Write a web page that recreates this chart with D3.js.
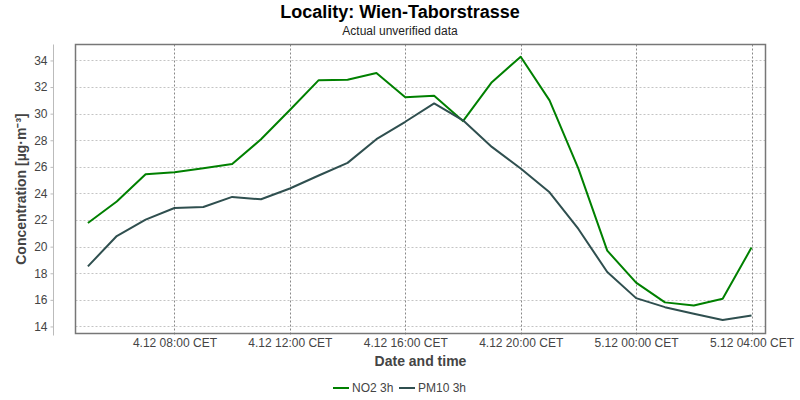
<!DOCTYPE html>
<html><head><meta charset="utf-8">
<script src="https://cdn.jsdelivr.net/npm/d3@7"></script>
<style>body{margin:0;background:#fff;}svg{display:block;font-family:"Liberation Sans",Arial,sans-serif;}</style>
</head><body><svg id="c" width="800" height="400"></svg>
<script>
const hours = ["2023-12-04T05:00","2023-12-04T06:00","2023-12-04T07:00","2023-12-04T08:00","2023-12-04T09:00","2023-12-04T10:00","2023-12-04T11:00","2023-12-04T12:00","2023-12-04T13:00","2023-12-04T14:00","2023-12-04T15:00","2023-12-04T16:00","2023-12-04T17:00","2023-12-04T18:00","2023-12-04T19:00","2023-12-04T20:00","2023-12-04T21:00","2023-12-04T22:00","2023-12-04T23:00","2023-12-05T00:00","2023-12-05T01:00","2023-12-05T02:00","2023-12-05T03:00","2023-12-05T04:00"];
const no2 = [21.78,23.39,25.45,25.6,25.9,26.22,28.07,30.27,32.52,32.55,33.05,31.24,31.34,29.44,32.37,34.28,31.0,25.87,19.7,17.29,15.81,15.58,16.08,19.93];
const pm10 = [18.52,20.8,22.03,22.91,22.98,23.74,23.56,24.37,25.35,26.3,28.08,29.39,30.77,29.5,27.5,25.88,24.09,21.33,18.09,16.13,15.45,14.95,14.48,14.83];
const yTicks = [14,16,18,20,22,24,26,28,30,32,34];
const xTickTimes = ["2023-12-04T08:00","2023-12-04T12:00","2023-12-04T16:00","2023-12-04T20:00","2023-12-05T00:00","2023-12-05T04:00"];
const xTickLabels = ["4.12 08:00 CET","4.12 12:00 CET","4.12 16:00 CET","4.12 20:00 CET","5.12 00:00 CET","5.12 04:00 CET"];
const seriesNames = ["NO2 3h","PM10 3h"];
const seriesColors = ["#008000","#2f4f4f"];
const title = "Locality: Wien-Taborstrasse";
const subtitle = "Actual unverified data";
const yLabel = "Concentration [µg·m⁻³]";
const xLabel = "Date and time";

const parse = d3.timeParse("%Y-%m-%dT%H:%M");
const times = hours.map(parse);
const svg = d3.select("#c");
const L = 75.5, R = 765.5, T = 44.5, B = 333.5;
const hourMs = 3600e3;
const x = d3.scaleTime()
  .domain([new Date(times[0].getTime() - 0.43*hourMs), new Date(times[times.length-1].getTime() + 0.485*hourMs)])
  .range([L, R]);
const y = d3.scaleLinear().domain([13.47, 35.2]).range([B, T]);

svg.append("text").attr("x",400).attr("y",18).attr("text-anchor","middle")
  .attr("font-size",18).attr("font-weight","bold").attr("fill","#000").text(title);
svg.append("text").attr("x",400).attr("y",35).attr("text-anchor","middle")
  .attr("font-size",12).attr("fill","#222").text(subtitle);

// horizontal grid
svg.append("g").selectAll("line").data(yTicks).join("line")
  .attr("x1",L).attr("x2",R).attr("y1",d=>Math.round(y(d))+0.5).attr("y2",d=>Math.round(y(d))+0.5)
  .attr("stroke","#c4c4c4").attr("stroke-dasharray","2,2").attr("stroke-width",1);
// vertical grid
const xt = xTickTimes.map(parse);
svg.append("g").selectAll("line").data(xt).join("line")
  .attr("x1",d=>Math.round(x(d))+0.5).attr("x2",d=>Math.round(x(d))+0.5).attr("y1",T).attr("y2",B+3)
  .attr("stroke","#888").attr("stroke-dasharray","2,2").attr("stroke-width",1);

// y axis (offset)
const yAxis = d3.axisLeft(y).tickValues(yTicks).tickSize(3).tickPadding(3).tickFormat(d3.format("d"));
const gy = svg.append("g").attr("transform","translate(53.5,0)").call(yAxis);
gy.select(".domain").attr("stroke","#bbb").attr("d",`M0,${T}V${B+2}`);
gy.selectAll(".tick line").attr("stroke","#bbb");
gy.selectAll(".tick text").attr("font-size",12).attr("fill","#444").attr("font-family","Liberation Sans, Arial, sans-serif");

// x axis labels
const xAxis = d3.axisBottom(x).tickValues(xt).tickSize(0).tickPadding(4).tickFormat((d,i)=>xTickLabels[i]);
const gx = svg.append("g").attr("transform",`translate(0,${B+1})`).call(xAxis);
gx.select(".domain").remove();
gx.selectAll(".tick text").attr("font-size",12).attr("fill","#444").attr("font-family","Liberation Sans, Arial, sans-serif");

// plot border
svg.append("rect").attr("x",L).attr("y",T).attr("width",R-L).attr("height",B-T)
  .attr("fill","none").attr("stroke","#777").attr("stroke-width",1.5);

// lines
const line = d3.line().x((d,i)=>x(times[i])).y(d=>y(d));
[no2, pm10].forEach((s,k)=>{
  svg.append("path").datum(s).attr("d",line).attr("fill","none")
    .attr("stroke",seriesColors[k]).attr("stroke-width",2).attr("stroke-linejoin","round");
});

// axis titles
svg.append("text").attr("transform",`translate(26,${(T+B)/2}) rotate(-90)`).attr("text-anchor","middle")
  .attr("font-size",14).attr("font-weight","bold").attr("fill","#444").text(yLabel);
svg.append("text").attr("x",(L+R)/2).attr("y",366).attr("text-anchor","middle")
  .attr("font-size",14).attr("font-weight","bold").attr("fill","#444").text(xLabel);

// legend
const lg = svg.append("g");
const lx = [333, 399];
seriesNames.forEach((n,k)=>{
  lg.append("line").attr("x1",lx[k]).attr("x2",lx[k]+16).attr("y1",388).attr("y2",388)
    .attr("stroke",seriesColors[k]).attr("stroke-width",2);
  lg.append("text").attr("x",lx[k]+19).attr("y",392).attr("font-size",12).attr("fill","#444").text(n);
});
</script></body></html>
